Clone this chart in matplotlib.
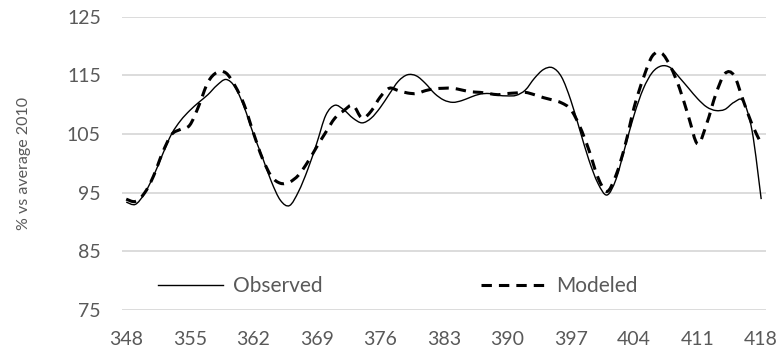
import numpy as np
import matplotlib

matplotlib.use("Agg")

import matplotlib.pyplot as plt
from matplotlib.path import Path
from matplotlib.patches import PathPatch
from matplotlib.lines import Line2D

plt.rcParams["font.family"] = ["Lato", "DejaVu Sans"]

weeks = np.arange(348, 419)

observed = [
    93.4, 93.0, 94.8, 97.8, 101.5, 105.0, 107.3, 109.0, 110.4, 111.7,
    113.3, 114.3, 113.0, 109.6, 105.1, 101.1, 96.9, 93.7, 92.8, 95.2,
    98.9, 103.4, 108.2, 109.9, 109.1, 107.7, 106.9, 107.7, 109.5, 111.8,
    114.0, 115.1, 114.9, 113.6, 111.9, 110.8, 110.4, 110.7, 111.3, 111.8,
    111.9, 111.6, 111.5, 111.6, 112.5, 114.5, 116.0, 116.3, 114.7, 110.8,
    105.7, 100.6, 96.6, 94.6, 97.3, 102.8, 108.3, 112.7, 115.5, 116.6,
    116.3, 114.6, 112.8, 111.0, 109.6, 109.0, 109.2, 110.4, 110.6, 105.5,
    93.9,
]

modeled = [
    93.9, 93.5, 94.9, 97.8, 101.8, 104.9, 105.8, 106.5, 109.8, 113.8,
    115.5, 115.4, 113.2, 110.0, 105.3, 100.9, 97.8, 96.6, 96.8, 98.0,
    100.2, 102.8, 105.3, 107.7, 109.0, 109.9, 107.7, 108.9, 111.3, 112.8,
    112.4, 112.0, 111.9, 112.4, 112.7, 112.8, 112.8, 112.5, 112.2, 112.1,
    111.9, 111.7, 111.9, 112.0, 112.1, 111.7, 111.2, 110.8, 110.3, 109.2,
    106.3, 102.3, 97.6, 95.2, 98.0, 103.1, 109.6, 114.5, 118.3, 118.8,
    116.5, 112.8, 107.9, 103.3, 106.8, 111.8, 115.3, 115.0, 110.8, 106.6,
    103.4,
]

x_ticks = np.arange(348, 419, 7)
y_ticks = [75, 85, 95, 105, 115, 125]

TEXT_GRAY = "#595959"
GRID_GRAY = "#d9d9d9"


def smooth_path(x, y):
    # Excel-style smoothed line: cubic Bezier segments through every point
    pts = np.column_stack([x, y]).astype(float)
    verts = [pts[0]]
    codes = [Path.MOVETO]
    n = len(pts)
    for i in range(n - 1):
        p0 = pts[max(i - 1, 0)]
        p1 = pts[i]
        p2 = pts[i + 1]
        p3 = pts[min(i + 2, n - 1)]
        c1 = p1 + (p2 - p0) / 6
        c2 = p2 - (p3 - p1) / 6
        verts += [c1, c2, p2]
        codes += [Path.CURVE4] * 3
    return Path(verts, codes)


fig = plt.figure(figsize=(7.77, 3.5), dpi=100)
ax = fig.add_axes([0.1566, 0.1143, 0.8289, 0.838])

obs_style = dict(color="black", linewidth=1.0)
mod_style = dict(color="black", linewidth=2.2, linestyle=(0, (3.4, 2.3)))

ax.add_patch(
    PathPatch(smooth_path(weeks, observed), fill=False, zorder=3, **obs_style)
)
ax.add_patch(
    PathPatch(smooth_path(weeks, modeled), fill=False, zorder=3, **mod_style)
)

ax.set_xlim(347.5, 418.5)
ax.set_ylim(75, 125)
ax.set_xticks(x_ticks)
ax.set_yticks(y_ticks)

ax.yaxis.grid(True, color=GRID_GRAY, linewidth=1.3)
ax.set_axisbelow(True)
for side in ["top", "right", "left", "bottom"]:
    ax.spines[side].set_visible(False)

ax.tick_params(axis="both", length=0, labelsize=14, colors=TEXT_GRAY)
ax.tick_params(axis="x", pad=15)
ax.tick_params(axis="y", pad=15)

ax.set_ylabel("% vs average 2010", fontsize=11.5, color=TEXT_GRAY, labelpad=26)

handles = [
    Line2D([], [], **obs_style),
    Line2D([], [], **mod_style),
]

ax.legend(
    handles,
    ["Observed", "Modeled"],
    loc="center left",
    bbox_to_anchor=(158 / 777, 1 - 286 / 350),
    bbox_transform=fig.transFigure,
    ncol=2,
    frameon=False,
    fontsize=15,
    handlelength=3.1,
    handletextpad=0.5,
    columnspacing=7.6,
    borderpad=0,
    borderaxespad=0,
    labelcolor=TEXT_GRAY,
)

fig.savefig("out.png", dpi=100)
